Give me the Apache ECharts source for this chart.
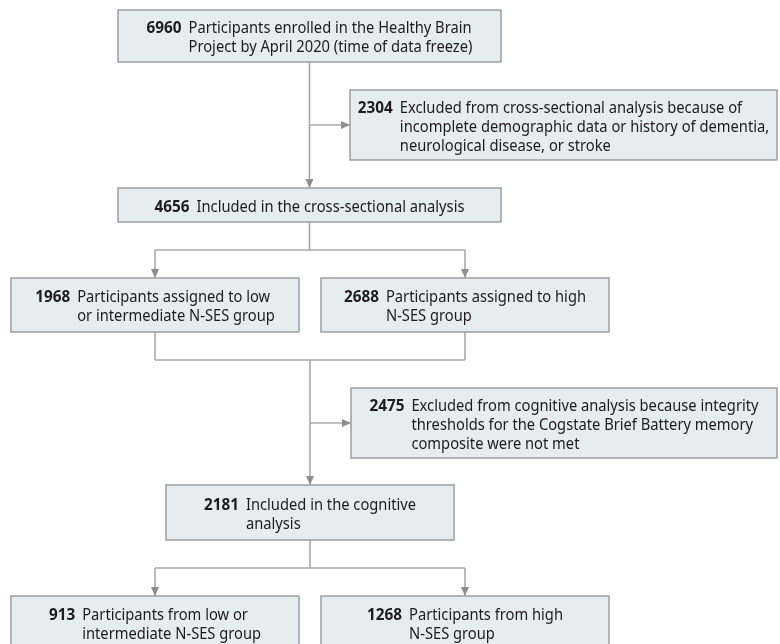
<!DOCTYPE html>
<html>
<head>
<meta charset="utf-8">
<script src="https://cdn.jsdelivr.net/npm/echarts@6/dist/echarts.min.js"></script>
<style>
  html, body { margin: 0; padding: 0; background: #fff; }
  #chart { width: 780px; height: 644px; }
</style>
</head>
<body>
<div id="chart"></div>
<script>
// participant counts (bold number in each box)
const counts = [6960, 2304, 4656, 1968, 2688, 2475, 2181, 913, 1268];

// box text, one entry per line
const labels = [
  ['Participants enrolled in the Healthy Brain', 'Project by April 2020 (time of data freeze)'],
  ['Excluded from cross-sectional analysis because of', 'incomplete demographic data or history of dementia,', 'neurological disease, or stroke'],
  ['Included in the cross-sectional analysis'],
  ['Participants assigned to low', 'or intermediate N-SES group'],
  ['Participants assigned to high', 'N-SES group'],
  ['Excluded from cognitive analysis because integrity', 'thresholds for the Cogstate Brief Battery memory', 'composite were not met'],
  ['Included in the cognitive', 'analysis'],
  ['Participants from low or', 'intermediate N-SES group'],
  ['Participants from high', 'N-SES group']
];

// flow links between boxes (by index)
const links = [
  { type: 'down', from: 0, to: 2 },
  { type: 'side', trunk: 0, to: 1 },
  { type: 'split', from: 2, to: [3, 4] },
  { type: 'merge', from: [3, 4], to: 6 },
  { type: 'side', trunk: 6, to: 5 },
  { type: 'split', from: 6, to: [7, 8] }
];

// layout (chart units == px): x0, y0, x1, y1
const boxes = [
  [118, 10, 501, 62],
  [350, 90, 777, 160],
  [118, 188, 501, 222],
  [11, 278, 299, 332],
  [321, 278, 609, 332],
  [351, 388, 777, 458],
  [166, 485, 454, 540],
  [11, 596, 299, 650],
  [321, 596, 609, 650]
];
const mergeY = 360;

const FONT = '"Noto Sans"';
const FS = 16;
const LINE_H = 19;
const NUM_GAP = 7;
const TEXT_DY = 2;
const TEXT_COLOR = '#1f1b1c';
const LINE_COLOR = '#a9a9a9';
const ARROW_COLOR = '#8e8e8e';

const ctx = document.createElement('canvas').getContext('2d');
function rawWidth (txt, bold) {
  ctx.font = (bold ? 'bold ' : '') + FS + 'px ' + FONT;
  return ctx.measureText(txt).width;
}
// condense the face so it runs as narrow as the original figure font
const SX = 283 / rawWidth(labels[0][0], false);
const SX_NUM = 35 / rawWidth(String(counts[0]), true);
function measure (txt, bold) {
  return rawWidth(txt, bold) * (bold ? SX_NUM : SX);
}

function cx (b) { return (boxes[b][0] + boxes[b][2]) / 2 }
function cy (b) { return (boxes[b][1] + boxes[b][3]) / 2 }

// build connector polylines + arrow targets in chart units
function linkPaths (l) {
  const lines = [];
  const arrows = []; // [x, y, dir]
  if (l.type === 'down') {
    lines.push([[cx(l.from), boxes[l.from][3]], [cx(l.to), boxes[l.to][1]]]);
    arrows.push([cx(l.to), boxes[l.to][1], 'down']);
  } else if (l.type === 'side') {
    const x = cx(l.trunk);
    lines.push([[x, cy(l.to)], [boxes[l.to][0], cy(l.to)]]);
    arrows.push([boxes[l.to][0], cy(l.to), 'right']);
  } else if (l.type === 'split') {
    const y0 = boxes[l.from][3];
    const y1 = Math.min(...l.to.map(t => boxes[t][1]));
    const my = (y0 + y1) / 2;
    lines.push([[cx(l.from), y0], [cx(l.from), my]]);
    lines.push([[cx(l.to[0]), my], [cx(l.to[1]), my]]);
    l.to.forEach(t => {
      lines.push([[cx(t), my], [cx(t), boxes[t][1]]]);
      arrows.push([cx(t), boxes[t][1], 'down']);
    });
  } else if (l.type === 'merge') {
    l.from.forEach(f => {
      lines.push([[cx(f), boxes[f][3]], [cx(f), mergeY]]);
    });
    lines.push([[cx(l.from[0]), mergeY], [cx(l.from[1]), mergeY]]);
    lines.push([[cx(l.to), mergeY], [cx(l.to), boxes[l.to][1]]]);
    arrows.push([cx(l.to), boxes[l.to][1], 'down']);
  }
  return { lines, arrows };
}

const chart = echarts.init(document.getElementById('chart'), null, { renderer: 'canvas' });

const option = {
  animation: false,
  backgroundColor: '#fff',
  grid: { left: 0, right: 0, top: 0, bottom: 0 },
  xAxis: { type: 'value', min: 0, max: 780, show: false },
  yAxis: { type: 'value', min: 0, max: 644, inverse: true, show: false },
  series: [
    {
      type: 'custom',
      name: 'links',
      data: links.map((l, i) => i),
      z: 1,
      renderItem: function (params, api) {
        const l = links[params.dataIndex];
        const p = linkPaths(l);
        const children = [];
        p.lines.forEach(pts => {
          const px = pts.map(pt => api.coord(pt));
          children.push({
            type: 'polyline',
            shape: { points: px },
            style: { stroke: LINE_COLOR, lineWidth: 1.6, fill: null }
          });
        });
        p.arrows.forEach(a => {
          const tip = api.coord([a[0], a[1]]);
          let pts;
          if (a[2] === 'down') {
            pts = [[tip[0], tip[1]], [tip[0] - 4, tip[1] - 9], [tip[0] + 4, tip[1] - 9]];
          } else {
            pts = [[tip[0], tip[1]], [tip[0] - 9, tip[1] - 4], [tip[0] - 9, tip[1] + 4]];
          }
          children.push({
            type: 'polygon',
            shape: { points: pts },
            style: { fill: ARROW_COLOR }
          });
        });
        return { type: 'group', children: children };
      }
    },
    {
      type: 'custom',
      name: 'boxes',
      data: counts.map((c, i) => [i, c]),
      z: 2,
      renderItem: function (params, api) {
        const i = params.dataIndex;
        const b = boxes[i];
        const tl = api.coord([b[0], b[1]]);
        const br = api.coord([b[2], b[3]]);
        const numTxt = String(counts[i]);
        const numW = measure(numTxt, true);
        const lineW = Math.max(...labels[i].map(t => measure(t, false)));
        const blockW = numW + NUM_GAP + lineW;
        const x0 = (tl[0] + br[0]) / 2 - blockW / 2;
        const midY = (tl[1] + br[1]) / 2 + TEXT_DY;
        const n = labels[i].length;
        const children = [{
          type: 'rect',
          shape: { x: tl[0], y: tl[1], width: br[0] - tl[0], height: br[1] - tl[1] },
          style: { fill: '#e5edf1', stroke: '#9c9fa1', lineWidth: 1.5 }
        }];
        const firstY = midY - (n - 1) / 2 * LINE_H;
        children.push({
          type: 'text',
          x: x0, y: firstY, scaleX: SX_NUM,
          style: {
            text: numTxt, font: 'bold ' + FS + 'px ' + FONT, fill: TEXT_COLOR,
            align: 'left', verticalAlign: 'middle', textAlign: 'left', textVerticalAlign: 'middle'
          }
        });
        labels[i].forEach((t, k) => {
          children.push({
            type: 'text',
            x: x0 + numW + NUM_GAP, y: firstY + k * LINE_H, scaleX: SX,
            style: {
              text: t, font: FS + 'px ' + FONT, fill: TEXT_COLOR,
              align: 'left', verticalAlign: 'middle', textAlign: 'left', textVerticalAlign: 'middle'
            }
          });
        });
        return { type: 'group', children: children };
      }
    }
  ]
};

chart.setOption(option);
</script>
</body>
</html>
